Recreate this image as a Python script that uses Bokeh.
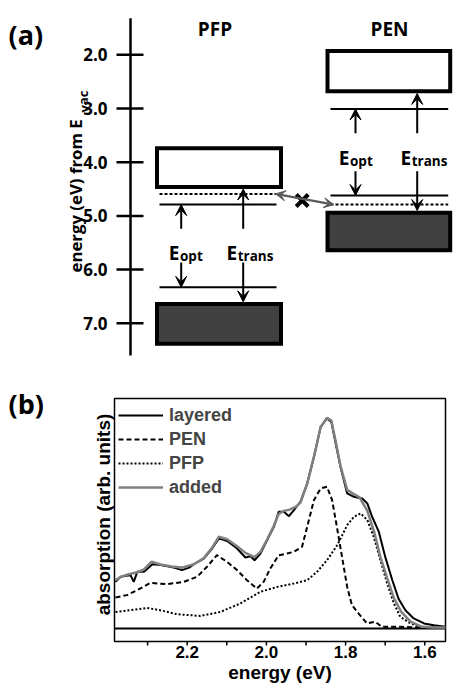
from bokeh.plotting import figure
from bokeh.models import (Range1d, ColumnDataSource, Arrow, VeeHead, Legend, LegendItem)
from bokeh.embed import file_html
from bokeh.resources import INLINE
from bokeh.core.properties import value

# ---------------- panel (a): energy levels (eV below vacuum) ----------------
axis_ticks = [2.0, 3.0, 4.0, 5.0, 6.0, 7.0]
axis_tick_labels = ["2.0", "3.0", "4.0", "5.0", "6.0", "7.0"]
molecules = ["PFP", "PEN"]
lumo_band_top = [3.74, 1.93]
lumo_band_bottom = [4.46, 2.68]
homo_band_top = [6.64, 4.94]
homo_band_bottom = [7.38, 5.64]
opt_lumo = [4.79, 3.01]          # optical-gap levels (solid lines)
opt_homo = [6.33, 4.62]
interface_level = [4.59, 4.79]   # dotted levels
trans_lumo_edge = [4.50, 2.72]   # transport-gap arrow tips (band edges)
trans_homo_edge = [6.60, 4.90]
arrow_tail_up = [5.24, 3.46]     # where the arrows stop around the labels
arrow_tail_down = [5.87, 4.17]

# ---------------- panel (b): absorption spectra ----------------
layered_x = [2.381, 2.368, 2.350, 2.343, 2.335, 2.326, 2.309, 2.288, 2.267, 2.250,
             2.234, 2.213, 2.195, 2.183, 2.158, 2.137, 2.120, 2.099, 2.074, 2.053,
             2.040, 2.030, 2.015, 1.998, 1.981, 1.969, 1.956, 1.943, 1.931, 1.914,
             1.897, 1.880, 1.863, 1.847, 1.836, 1.825, 1.813, 1.796, 1.779, 1.758,
             1.745, 1.733, 1.716, 1.699, 1.682, 1.666, 1.649, 1.628, 1.602, 1.577, 1.548]
layered_y = [0.222, 0.246, 0.252, 0.254, 0.222, 0.270, 0.270, 0.306, 0.302, 0.296,
             0.290, 0.278, 0.290, 0.306, 0.333, 0.381, 0.429, 0.417, 0.381, 0.338,
             0.344, 0.325, 0.357, 0.421, 0.484, 0.556, 0.556, 0.535, 0.563, 0.603,
             0.690, 0.817, 0.960, 1.000, 0.984, 0.881, 0.770, 0.643, 0.627, 0.619,
             0.595, 0.532, 0.460, 0.335, 0.230, 0.140, 0.087, 0.048, 0.024, 0.016, 0.008]

added_x = [2.381, 2.368, 2.350, 2.326, 2.309, 2.290, 2.267, 2.240, 2.213, 2.183,
           2.158, 2.137, 2.120, 2.099, 2.074, 2.053, 2.030, 2.015, 1.998, 1.981,
           1.969, 1.956, 1.943, 1.925, 1.914, 1.897, 1.880, 1.863, 1.847, 1.836,
           1.825, 1.813, 1.796, 1.779, 1.765, 1.745, 1.728, 1.712, 1.695, 1.678,
           1.660, 1.636, 1.610, 1.580, 1.548]
added_y = [0.230, 0.246, 0.257, 0.268, 0.281, 0.318, 0.305, 0.295, 0.290, 0.306,
           0.335, 0.385, 0.437, 0.425, 0.392, 0.360, 0.340, 0.365, 0.425, 0.490,
           0.545, 0.560, 0.565, 0.580, 0.600, 0.690, 0.817, 0.960, 1.003, 0.990,
           0.890, 0.775, 0.660, 0.640, 0.625, 0.560, 0.460, 0.340, 0.240, 0.145,
           0.080, 0.033, 0.010, 0.005, 0.005]

pen_x = [2.381, 2.352, 2.326, 2.293, 2.251, 2.209, 2.175, 2.150, 2.125, 2.099,
         2.074, 2.049, 2.024, 2.007, 1.990, 1.969, 1.948, 1.931, 1.910, 1.897,
         1.880, 1.863, 1.847, 1.834, 1.822, 1.809, 1.796, 1.784, 1.767, 1.746,
         1.725, 1.708, 1.662, 1.611, 1.548]
pen_y = [0.148, 0.159, 0.183, 0.217, 0.211, 0.222, 0.246, 0.294, 0.349, 0.317,
         0.278, 0.230, 0.190, 0.222, 0.286, 0.349, 0.357, 0.365, 0.389, 0.484,
         0.611, 0.667, 0.675, 0.611, 0.484, 0.341, 0.198, 0.111, 0.071, 0.024,
         0.032, 0.008, 0.008, 0.005, 0.003]

pfp_x = [2.381, 2.335, 2.301, 2.268, 2.226, 2.167, 2.116, 2.066, 2.015, 1.973,
         1.931, 1.897, 1.872, 1.847, 1.821, 1.796, 1.779, 1.762, 1.745, 1.729,
         1.712, 1.695, 1.678, 1.662, 1.636, 1.611, 1.548]
pfp_y = [0.079, 0.090, 0.098, 0.087, 0.068, 0.060, 0.079, 0.119, 0.175, 0.198,
         0.214, 0.230, 0.270, 0.325, 0.397, 0.492, 0.532, 0.548, 0.516, 0.437,
         0.325, 0.214, 0.119, 0.056, 0.024, 0.008, 0.003]

x_major_ticks = [2.2, 2.0, 1.8, 1.6]
x_tick_labels = ["2.2", "2.0", "1.8", "1.6"]
x_minor_ticks = [2.3, 2.1, 1.9, 1.7]

OPEN = "Open Sans"
ARIAL = "Liberation Sans"

# ---------------- layout (screen pixels) ----------------
W, H = 454, 686
box_left = [156.5, 327.0]
box_right = [280.5, 449.7]
line_left = [159.0, 330.0]
line_right = [276.0, 447.7]
opt_arrow_x = [180.7, 355.0]
trans_arrow_x = [242.7, 416.7]
B_LEFT, B_RIGHT, B_TOP, B_BOTTOM = 114, 445, 398, 641   # panel (b) frame box

# one canvas; default ranges are pixel coordinates (y measured from top)
p = figure(width=W, height=H, x_range=Range1d(0, W), y_range=Range1d(H, 0),
           output_backend="svg", toolbar_location=None, min_border=0,
           outline_line_color=None, x_axis_location=None, y_axis_location=None, title=None)
p.grid.visible = False
# energy scale of panel (a): 53.7 px per eV, 2.0 eV at y = 54.3
p.extra_y_ranges["E"] = Range1d(2.0 + (H - 54.3) / 53.7, 2.0 - 54.3 / 53.7)
# panel (b) scales: 2.2 eV at x = 186.7, 396 px per eV; zero at y = 628, 210 px per unit
p.extra_x_ranges["eV"] = Range1d(2.2 + 186.7 / 396.0, 2.2 - (W - 186.7) / 396.0)
p.extra_y_ranges["abs"] = Range1d((628 - H) / 210.0, 628 / 210.0)

# ======== panel (a) ========
p.segment(x0=130, x1=130, y0=1.32, y1=7.60, line_width=2.5, line_color="black", y_range_name="E")
p.segment(x0=116, x1=143, y0=axis_ticks, y1=axis_ticks, line_width=2.5, line_color="black",
          y_range_name="E")
p.text(x=107, y=axis_ticks, text=axis_tick_labels, text_align="right", text_baseline="middle",
       text_font=value(OPEN), text_font_style="bold", text_font_size="17px", text_color="black",
       y_range_name="E")
p.text(x=[75], y=[272], text=["energy (eV) from E"], angle=1.5708, text_align="left",
       text_baseline="alphabetic", text_font=value(OPEN), text_font_style="bold",
       text_font_size="16.8px")
p.text(x=[83], y=[112], text=["vac"], angle=1.5708, text_align="left",
       text_baseline="alphabetic", text_font=value(OPEN), text_font_style="bold",
       text_font_size="13px")

p.quad(left=box_left, right=box_right, top=lumo_band_top, bottom=lumo_band_bottom,
       fill_color="white", line_color="black", line_width=4, line_join="miter", y_range_name="E")
p.quad(left=box_left, right=box_right, top=homo_band_top, bottom=homo_band_bottom,
       fill_color="#414141", line_color="black", line_width=4, line_join="miter", y_range_name="E")

p.segment(x0=line_left, x1=line_right, y0=opt_lumo, y1=opt_lumo, line_width=2,
          line_color="black", y_range_name="E")
p.segment(x0=line_left, x1=line_right, y0=opt_homo, y1=opt_homo, line_width=2,
          line_color="black", y_range_name="E")
p.segment(x0=line_left, x1=line_right, y0=interface_level, y1=interface_level,
          line_width=2, line_color="black", line_dash="3 2", y_range_name="E")


def add_arrows(xs, y_from, y_to):
    src = ColumnDataSource(dict(x=xs, y0=y_from, y1=y_to))
    p.add_layout(Arrow(end=VeeHead(size=11, fill_color="black", line_color="black"),
                       x_start="x", y_start="y0", x_end="x", y_end="y1", source=src,
                       line_width=2, line_color="black", y_range_name="E"))


add_arrows(opt_arrow_x, arrow_tail_up, opt_lumo)
add_arrows(opt_arrow_x, arrow_tail_down, opt_homo)
add_arrows(trans_arrow_x, arrow_tail_up, trans_lumo_edge)
add_arrows(trans_arrow_x, arrow_tail_down, trans_homo_edge)

p.add_layout(Arrow(start=VeeHead(size=10, fill_color="#5a5a5a", line_color="#5a5a5a"),
                   end=VeeHead(size=10, fill_color="#5a5a5a", line_color="#5a5a5a"),
                   x_start=275, y_start=interface_level[0], x_end=333.3, y_end=interface_level[1],
                   line_width=2.5, line_color="#5a5a5a", y_range_name="E"))
p.scatter(x=[301.7], y=[200], marker="x", size=17, line_width=4, line_color="black")

p.text(x=[8, 8], y=[34, 403], text=["(a)", "(b)"], text_font=value(OPEN), text_font_style="bold",
       text_font_size="27px", text_baseline="alphabetic")
p.text(x=[214.5, 389], y=[28.3, 28.3], text=molecules, text_align="center",
       text_baseline="alphabetic", text_font=value(OPEN), text_font_style="bold",
       text_font_size="19px")
e_x = [168.3, 226.0, 338.3, 400.0]
e_y = [252.5, 252.5, 157.7, 157.7]
sub_text = ["opt", "trans", "opt", "trans"]
p.text(x=e_x, y=e_y, text=["E"] * 4, text_baseline="alphabetic", text_font=value(OPEN),
       text_font_style="bold", text_font_size="19px")
p.text(x=[v + 11.2 for v in e_x], y=[v + 3 for v in e_y], text=sub_text,
       text_baseline="alphabetic", text_font=value(OPEN), text_font_style="bold",
       text_font_size="13.5px")

# ======== panel (b) ========
p.quad(left=[B_LEFT], right=[B_RIGHT], top=[B_TOP], bottom=[B_BOTTOM], fill_color=None,
       line_color="black", line_width=1.5)
p.segment(x0=[B_LEFT], x1=[B_RIGHT], y0=[0], y1=[0], line_color="black", line_width=2,
          y_range_name="abs")

r_layered = p.line(layered_x, layered_y, line_color="black", line_width=2,
                   x_range_name="eV", y_range_name="abs")
r_pen = p.line(pen_x, pen_y, line_color="black", line_width=2, line_dash="5 3",
               x_range_name="eV", y_range_name="abs")
r_pfp = p.line(pfp_x, pfp_y, line_color="black", line_width=2, line_dash="2 2",
               x_range_name="eV", y_range_name="abs")
r_added = p.line(added_x, added_y, line_color="#808080", line_width=2.5,
                 x_range_name="eV", y_range_name="abs")

# energy axis of panel (b)
p.segment(x0=x_major_ticks + x_minor_ticks, x1=x_major_ticks + x_minor_ticks,
          y0=B_BOTTOM, y1=B_BOTTOM + 4, line_color="black", line_width=1.5, x_range_name="eV")
p.text(x=x_major_ticks, y=B_BOTTOM + 4, text=x_tick_labels, text_align="center",
       text_baseline="top", text_font=value(ARIAL), text_font_style="bold",
       text_font_size="17px", x_range_name="eV")
p.text(x=[(B_LEFT + B_RIGHT) / 2], y=[672], text=["energy (eV)"], text_align="center",
       text_baseline="alphabetic", text_font=value(ARIAL), text_font_style="bold",
       text_font_size="19px")
p.text(x=[103], y=[514], text=["absorption (arb. units)"], angle=1.5708,
       text_align="center", text_baseline="alphabetic", text_font=value(ARIAL),
       text_font_style="bold", text_font_size="19px")

legend = Legend(items=[LegendItem(label="layered", renderers=[r_layered]),
                       LegendItem(label="PEN", renderers=[r_pen]),
                       LegendItem(label="PFP", renderers=[r_pfp]),
                       LegendItem(label="added", renderers=[r_added])],
                location=(118, H - 400 - 98), padding=2, spacing=2, margin=0,
                glyph_width=45, glyph_height=22, label_height=22, label_standoff=6,
                border_line_color=None, background_fill_alpha=0,
                label_text_font=ARIAL, label_text_font_style="bold", label_text_font_size="18px")
p.add_layout(legend)

open("out.html", "w").write(file_html(p, INLINE))
